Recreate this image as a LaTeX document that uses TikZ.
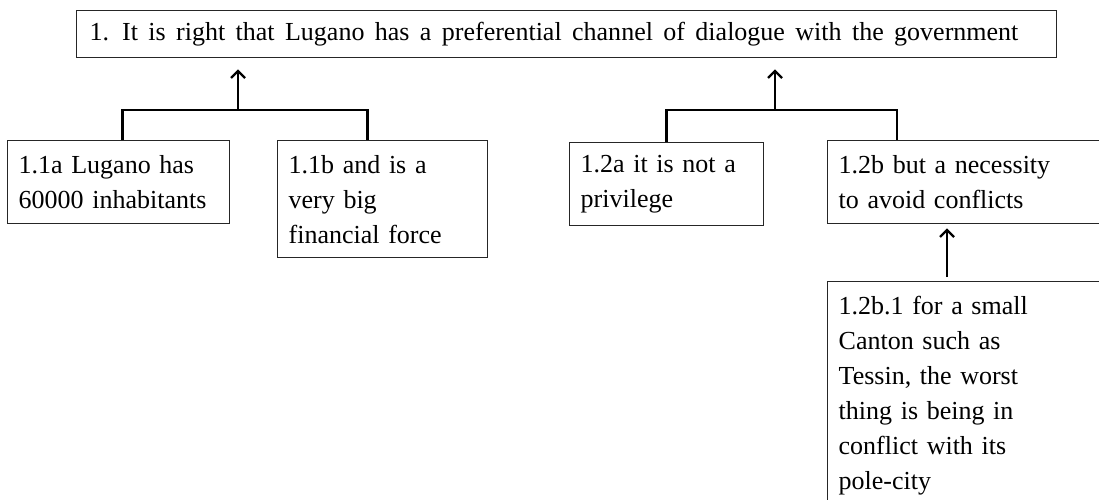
\documentclass[tikz,border=0pt]{standalone}
\usepackage{fontspec}
\setmainfont{Liberation Serif}
\usetikzlibrary{arrows.meta,calc}
\begin{document}
\begin{tikzpicture}[x=1pt,y=-1pt,
  box/.style={draw=black!85, line width=1.3pt, anchor=north west, inner xsep=11pt,
    inner ysep=0pt, align=left, font=\fontsize{26}{35}\selectfont},
  conn/.style={line width=2.8pt, black},
  arr/.style={conn, -{Straight Barb[length=7pt,width=14pt,line width=2.4pt]}}]
\useasboundingbox (0,0) rectangle (1099,500);
\clip (0,0) rectangle (1099,500);

% claim
\node[box, inner xsep=13pt, text width=954pt, minimum height=47pt] (top) at (76,10)
  {\spaceskip=10.4pt 1. It is right that Lugano has a preferential channel of dialogue with the government};

% first pair of premises
\node[box, text width=200pt, minimum height=83pt] (a11) at (7,140)
  {1.1a Lugano has\\60000 inhabitants};
\node[box, text width=188pt, minimum height=117pt] (b11) at (277,140)
  {1.1b and is a\\very big\\financial force};

% second pair of premises
\node[box, text width=172pt, minimum height=83pt] (a12) at (569,142)
  {1.2a it is not a\\privilege};
\node[box, text width=250pt, minimum height=83pt] (b12) at (827,140)
  {1.2b but a necessity\\to avoid conflicts};

% support for 1.2b
\node[box, text width=258pt, inner ysep=15pt] (c12) at (827,281)
  {1.2b.1 for a small\\Canton such as\\Tessin, the worst\\thing is being in\\conflict with its\\pole-city};

% joint links
\coordinate (j1) at (238,110);
\coordinate (j2) at (775,110);
\draw[conn] ([xshift=4pt]a11.north) |- (j1) -| ([xshift=-15pt]b11.north);
\draw[arr] (j1) -- ($(j1 |- top.south)+(0,11)$);
\draw[conn] (a12.north) |- (j2) -| ($(b12.north west)+(70,0)$);
\draw[arr] (j2) -- ($(j2 |- top.south)+(0,11)$);

% single link
\draw[arr] ($(c12.north west)+(120,-4)$) -- ($(b12.south west)+(120,4)$);
\end{tikzpicture}
\end{document}
